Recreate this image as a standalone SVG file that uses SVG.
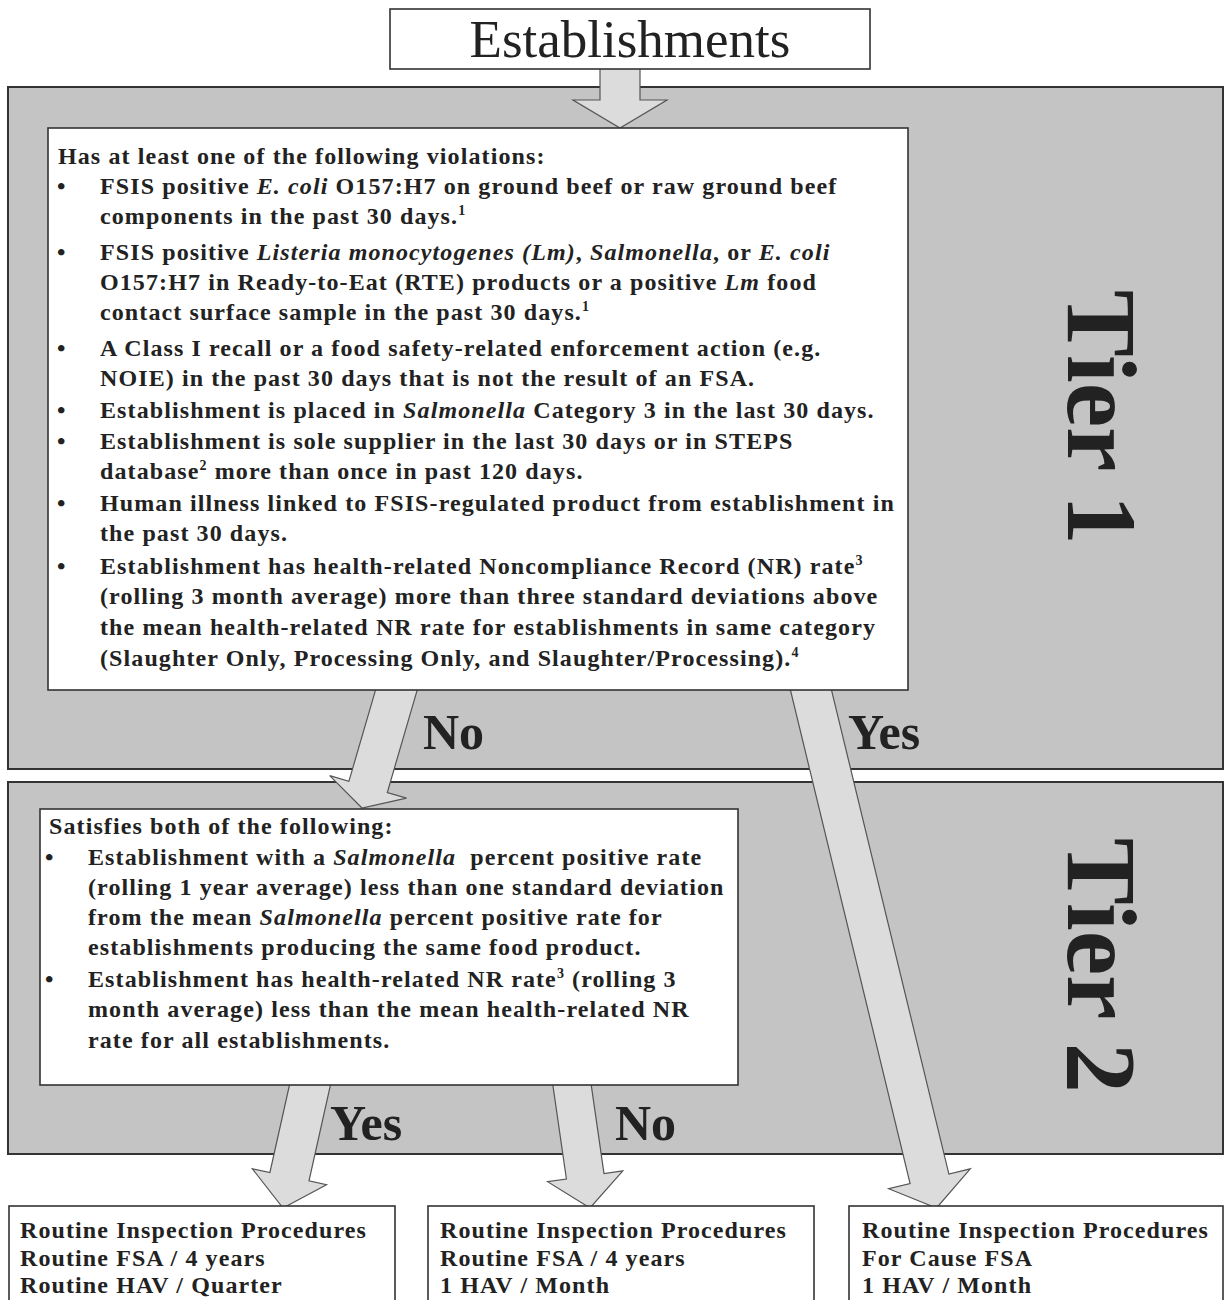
<svg xmlns="http://www.w3.org/2000/svg" width="1230" height="1300" viewBox="0 0 1230 1300">
  <style>
    .panel { fill: #c4c4c4; stroke: #333; stroke-width: 2; }
    .box { fill: #fff; stroke: #333; stroke-width: 1.6; }
    .arrow { fill: #dcdcdc; stroke: #555; stroke-width: 1.2; stroke-linejoin: miter; }
    .t { font-family: "Liberation Serif", "Times New Roman", serif; font-weight: bold; font-size: 24px; letter-spacing: 1.1px; fill: #222; }
    .i { font-style: italic; }
    .s { font-size: 14px; }
    .big { font-family: "Liberation Serif", "Times New Roman", serif; font-weight: bold; font-size: 50px; fill: #222; }
    .tier { font-family: "Liberation Serif", "Times New Roman", serif; font-weight: bold; font-size: 100px; fill: #222; }
    .title { font-family: "Liberation Serif", "Times New Roman", serif; font-size: 53px; fill: #222; }
  </style>

  <!-- tier panels -->
  <g id="tier1-panel">
    <rect class="panel" x="8" y="87" width="1215" height="682"/>
  </g>
  <g id="tier2-panel">
    <rect class="panel" x="8" y="782" width="1215" height="372"/>
  </g>

  <!-- block arrows -->
  <g id="connectors">
    <polygon class="arrow" points="600,60 640,60 640,100 667,100 620,128 573,100 600,100"/>
    <polygon class="arrow" points="418.2,686.6 387.3,792.5 406.5,798.1 362,808 329.7,775.7 348.9,781.3 379.8,675.4"/>
    <polygon class="arrow" points="828.0,675.6 948.9,1174.1 970.3,1168.9 936.5,1208 888.7,1188.7 910.1,1183.5 789.2,685.0"/>
    <polygon class="arrow" points="331.7,1079.4 309.0,1180.9 326.5,1184.7 283,1208 252.3,1168.7 269.9,1172.5 292.6,1071.0"/>
    <polygon class="arrow" points="589.4,1072.4 604.0,1173.6 622.8,1170.9 590,1208 547.6,1181.7 566.4,1179.0 551.8,1077.8"/>
  </g>

  <!-- start node -->
  <g id="establishments">
    <rect class="box" x="390" y="9" width="480" height="60"/>
    <text class="title" x="630" y="57" text-anchor="middle">Establishments</text>
  </g>

  <!-- tier 1 criteria -->
  <g id="tier1-criteria">
    <rect class="box" x="48" y="128" width="860" height="562"/>
    <text class="t" x="58" y="164">Has at least one of the following violations:</text>
    <g class="t">
      <text x="57" y="194">•</text>
      <text x="57" y="260">•</text>
      <text x="57" y="356">•</text>
      <text x="57" y="418">•</text>
      <text x="57" y="449">•</text>
      <text x="57" y="511">•</text>
      <text x="57" y="574">•</text>
    </g>
    <text class="t" x="100" y="194">FSIS positive <tspan class="i">E. coli</tspan> O157:H7 on ground beef or raw ground beef</text>
    <text class="t" x="100" y="224">components in the past 30 days.<tspan class="s" dy="-9">1</tspan></text>
    <text class="t" x="100" y="260">FSIS positive <tspan class="i">Listeria monocytogenes (Lm)</tspan>, <tspan class="i">Salmonella</tspan>, or <tspan class="i">E. coli</tspan></text>
    <text class="t" x="100" y="290">O157:H7 in Ready-to-Eat (RTE) products or a positive <tspan class="i">Lm</tspan> food</text>
    <text class="t" x="100" y="320">contact surface sample in the past 30 days.<tspan class="s" dy="-9">1</tspan></text>
    <text class="t" x="100" y="356">A Class I recall or a food safety-related enforcement action (e.g.</text>
    <text class="t" x="100" y="386">NOIE) in the past 30 days that is not the result of an FSA.</text>
    <text class="t" x="100" y="418">Establishment is placed in <tspan class="i">Salmonella</tspan> Category 3 in the last 30 days.</text>
    <text class="t" x="100" y="449">Establishment is sole supplier in the last 30 days or in STEPS</text>
    <text class="t" x="100" y="479">database<tspan class="s" dy="-9">2</tspan><tspan dy="9"> more than once in past 120 days.</tspan></text>
    <text class="t" x="100" y="511">Human illness linked to FSIS-regulated product from establishment in</text>
    <text class="t" x="100" y="541">the past 30 days.</text>
    <text class="t" x="100" y="574">Establishment has health-related Noncompliance Record (NR) rate<tspan class="s" dy="-9">3</tspan></text>
    <text class="t" x="100" y="604">(rolling 3 month average) more than three standard deviations above</text>
    <text class="t" x="100" y="635">the mean health-related NR rate for establishments in same category</text>
    <text class="t" x="100" y="666">(Slaughter Only, Processing Only, and Slaughter/Processing).<tspan class="s" dy="-9">4</tspan></text>
  </g>

  <!-- tier 2 criteria -->
  <g id="tier2-criteria">
    <rect class="box" x="40" y="809" width="698" height="276"/>
    <text class="t" x="49" y="834">Satisfies both of the following:</text>
    <g class="t">
      <text x="45" y="865">•</text>
      <text x="45" y="987">•</text>
    </g>
    <text class="t" x="88" y="865">Establishment with a <tspan class="i">Salmonella</tspan>&#160; percent positive rate</text>
    <text class="t" x="88" y="895">(rolling 1 year average) less than one standard deviation</text>
    <text class="t" x="88" y="925">from the mean <tspan class="i">Salmonella</tspan> percent positive rate for</text>
    <text class="t" x="88" y="955">establishments producing the same food product.</text>
    <text class="t" x="88" y="987">Establishment has health-related NR rate<tspan class="s" dy="-9">3</tspan><tspan dy="9"> (rolling 3</tspan></text>
    <text class="t" x="88" y="1017">month average) less than the mean health-related NR</text>
    <text class="t" x="88" y="1048">rate for all establishments.</text>
  </g>

  <!-- branch labels -->
  <g id="labels">
    <text class="big" x="423" y="749">No</text>
    <text class="big" x="848" y="749">Yes</text>
    <text class="big" x="330" y="1140">Yes</text>
    <text class="big" x="615" y="1140">No</text>
    <text class="tier" transform="translate(1068,290) rotate(90)">Tier 1</text>
    <text class="tier" transform="translate(1068,838) rotate(90)">Tier 2</text>
  </g>

  <!-- outcomes -->
  <g id="outcome-routine">
    <rect class="box" x="9" y="1206" width="386" height="110"/>
    <text class="t" x="20" y="1238">Routine Inspection Procedures</text>
    <text class="t" x="20" y="1266">Routine FSA / 4 years</text>
    <text class="t" x="20" y="1293">Routine HAV / Quarter</text>
  </g>
  <g id="outcome-monthly">
    <rect class="box" x="428" y="1206" width="386" height="110"/>
    <text class="t" x="440" y="1238">Routine Inspection Procedures</text>
    <text class="t" x="440" y="1266">Routine FSA / 4 years</text>
    <text class="t" x="440" y="1293">1 HAV / Month</text>
  </g>
  <g id="outcome-for-cause">
    <rect class="box" x="849" y="1206" width="374" height="110"/>
    <text class="t" x="862" y="1238">Routine Inspection Procedures</text>
    <text class="t" x="862" y="1266">For Cause FSA</text>
    <text class="t" x="862" y="1293">1 HAV / Month</text>
  </g>
</svg>
